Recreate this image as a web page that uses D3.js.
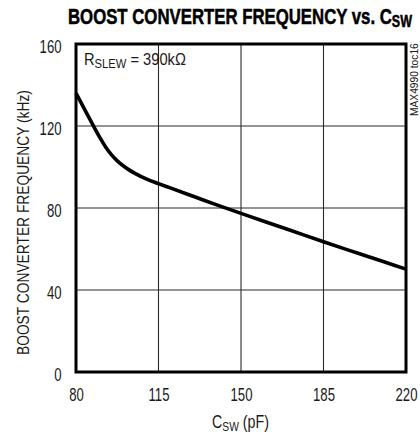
<!DOCTYPE html>
<html><head><meta charset="utf-8">
<script src="https://cdn.jsdelivr.net/npm/d3@7"></script>
<style>
body{margin:0;background:#fff;}
svg text{font-family:"Liberation Sans",Arial,sans-serif;fill:#1a1a1a;}
</style></head>
<body><svg id="c" width="420" height="436"></svg>
<script>
const capacitance = [80, 85, 90, 92.5, 95, 97.5, 100, 102.5, 105, 110, 115, 120, 130, 140, 150, 160, 170, 185, 200, 210, 220];
const frequency = [136, 125.2, 114.6, 109.9, 106.0, 103.0, 100.6, 98.6, 96.9, 94.1, 91.9, 89.8, 85.6, 81.4, 77.4, 73.4, 69.5, 63.5, 57.8, 54.0, 50.2];
const xTicks = [80, 115, 150, 185, 220];
const yTicks = [0, 40, 80, 120, 160];

const svg = d3.select("#c");
const L = 76, R = 406, T = 44, B = 372;
const x = d3.scaleLinear().domain([80, 220]).range([L, R]);
const y = d3.scaleLinear().domain([0, 160]).range([B, T]);

// horizontal factor so a text spans [x0,x1]
function fit(textSel, x0, x1) {
  const w = textSel.node().getBBox().width;
  return (x1 - x0) / w;
}

// grid
svg.append("g").selectAll("line").data(xTicks.slice(1, -1)).join("line")
  .attr("x1", d => x(d)).attr("x2", d => x(d)).attr("y1", T).attr("y2", B)
  .attr("stroke", "#2a2a2a").attr("stroke-width", 1.1);
svg.append("g").selectAll("line").data(yTicks.slice(1, -1)).join("line")
  .attr("y1", d => y(d)).attr("y2", d => y(d)).attr("x1", L).attr("x2", R)
  .attr("stroke", "#2a2a2a").attr("stroke-width", 1.1);

const SX = 0.73; // horizontal condensing factor
const xa = svg.append("g").attr("transform", `translate(0,${B})`)
  .call(d3.axisBottom(x).tickValues(xTicks).tickSize(0).tickPadding(0));
xa.select(".domain").remove();
xa.selectAll("text").attr("font-size", 18).attr("dy", null).attr("y", 29)
  .attr("transform", `scale(${SX},1)`);
const ya = svg.append("g").attr("transform", `translate(${L},0)`)
  .call(d3.axisLeft(y).tickValues(yTicks).tickSize(0).tickPadding(0));
ya.select(".domain").remove();
ya.selectAll("text").attr("font-size", 18).attr("dy", null).attr("y", 8)
  .attr("x", -14.5 / SX).attr("transform", `scale(${SX},1)`);

// curve
svg.append("path")
  .datum(capacitance.map((c, i) => [c, frequency[i]]))
  .attr("fill", "none").attr("stroke", "#000").attr("stroke-width", 3.6)
  .attr("stroke-linejoin", "round")
  .attr("d", d3.line().x(d => x(d[0])).y(d => y(d[1])).curve(d3.curveMonotoneX));

// frame
svg.append("rect").attr("x", L).attr("y", T).attr("width", R - L).attr("height", B - T)
  .attr("fill", "none").attr("stroke", "#000").attr("stroke-width", 3);

// title
const tg = svg.append("g");
const title = tg.append("text").attr("x", 0).attr("y", 0)
  .attr("font-size", 21.5).attr("font-weight", "bold")
  .style("fill", "#000").style("stroke", "#000").style("stroke-width", 0.5);
title.append("tspan").text("BOOST CONVERTER FREQUENCY vs. C");
title.append("tspan").attr("font-size", 16).attr("dy", 3).text("SW");
tg.attr("transform", `translate(68,24) scale(${fit(title, 68, 413)},1)`);

// annotation
const ag = svg.append("g");
const ann = ag.append("text").attr("font-size", 17);
ann.append("tspan").text("R");
ann.append("tspan").attr("font-size", 13).attr("dy", 3).text("SLEW");
ann.append("tspan").attr("dy", -3).text(" = 390k\u03A9");
ag.attr("transform", `translate(84,65) scale(${fit(ann, 84, 186)},1)`);

// x title
const xg = svg.append("g");
const xt = xg.append("text").attr("font-size", 18);
xt.append("tspan").text("C");
xt.append("tspan").attr("font-size", 13).attr("dy", 3).text("SW");
xt.append("tspan").attr("dy", -3).text(" (pF)");
xg.attr("transform", `translate(212,428) scale(${fit(xt, 212, 269)},1)`);

// y title (rotated)
const yg = svg.append("g");
const yt = yg.append("text").attr("font-size", 17).text("BOOST CONVERTER FREQUENCY (kHz)");
yg.attr("transform", `translate(28.5,355) rotate(-90) scale(${fit(yt, 90, 355)},1)`);

// side code
const sg = svg.append("g");
const st = sg.append("text").attr("font-size", 10.5).text("MAX4990 toc16");
sg.attr("transform", `translate(417.5,116) rotate(-90) scale(${fit(st, 43, 116)},1)`);
</script></body></html>
